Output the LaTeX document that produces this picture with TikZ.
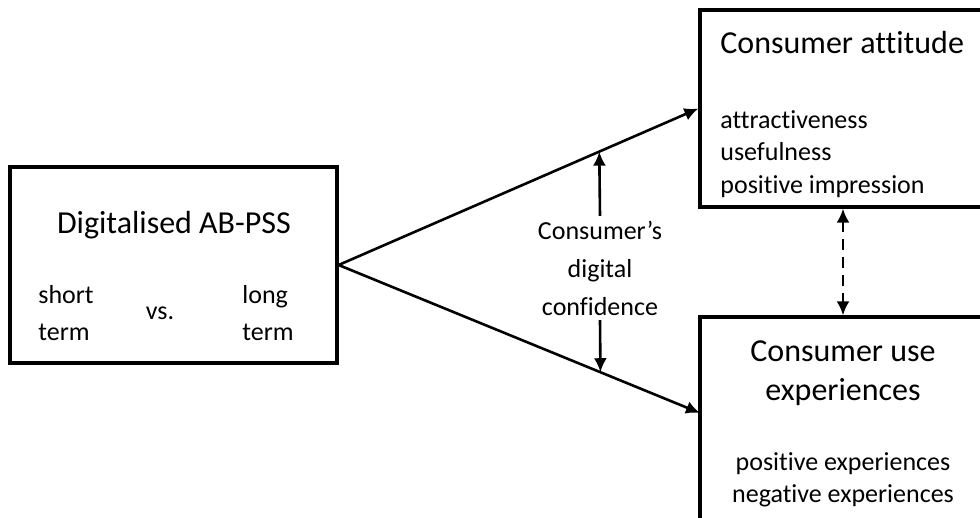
\documentclass[tikz,border=0pt]{standalone}
\usepackage{fontspec}
\setmainfont{Carlito}[Ligatures=NoCommon]
\usetikzlibrary{arrows.meta,calc}
\begin{document}
\begin{tikzpicture}[x=0.5pt,y=-0.5pt,
  box/.style={draw,line width=1.6pt,inner sep=0pt},
  title/.style={font=\fontsize{16}{19.5}\selectfont,inner sep=0pt,align=center},
  item/.style={font=\fontsize{13}{16.25}\selectfont,inner sep=0pt},
  arr/.style={line width=1.3pt,-{Latex[length=7pt,width=6.5pt]}},
  darr/.style={line width=1.3pt,{Latex[length=7pt,width=6.5pt]}-{Latex[length=7pt,width=6.5pt]}},
]
\useasboundingbox (0,0) rectangle (980,518);

% the three boxes; the right-hand ones run past the page edge
\begin{scope}
  \clip (0,0) rectangle (980,518);
  \node[box,minimum width=163.5pt,minimum height=98pt] (L) at (173.5,265) {};
  \node[box,minimum width=155pt,minimum height=98.5pt] (A) at (855,108.5) {};
  \node[box,minimum width=155pt,minimum height=111.5pt] (U) at (855,428.5) {};
\end{scope}

% left box texts
\node[title] (Lt) at (174,225) {Digitalised AB-PSS};
\node[item,anchor=west,align=left,font=\fontsize{13}{18.5}\selectfont] (Ls) at (38,313) {short\\term};
\node[item] (Lv) at (160,313) {vs.};
\node[item,anchor=west,align=left,font=\fontsize{13}{18.5}\selectfont] (Ll) at (242,313) {long\\term};

% attitude box texts
\node[title,anchor=west] (At) at (720,43) {Consumer attitude};
\node[item,anchor=west,align=left] (Ai) at (720,154) {attractiveness\\usefulness\\positive impression};

% use experience box texts
\node[title] (Ut) at (843,373) {Consumer use\\experiences};
\node[item,align=center] (Ui) at (843,480) {positive experiences\\negative experiences};

% moderator label
\node[item,align=center,font=\fontsize{13}{19}\selectfont,inner xsep=0pt,inner ysep=2.2pt] (C) at (600,268) {Consumer’s\\digital\\confidence};

% main paths
\coordinate (uin) at (700,413);
\draw[arr] (L.east) -- (A.west);
\draw[arr] (L.east) -- (uin);

% moderating arrows onto the paths
\coordinate (mA) at ($(L.east)!0.7245!(A.west)$);
\coordinate (mU) at ($(L.east)!0.7245!(uin)$);
\draw[arr] (C.north) -- (mA);
\draw[arr] (C.south) -- (mU);

% link between attitude and use experiences
\coordinate (dA) at ($(A.south)+(-12,0)$);
\coordinate (dU) at ($(U.north)+(-12,0)$);
\draw[darr,dash pattern=on 5.5pt off 3.5pt] (dA) -- (dU);
\end{tikzpicture}
\end{document}
